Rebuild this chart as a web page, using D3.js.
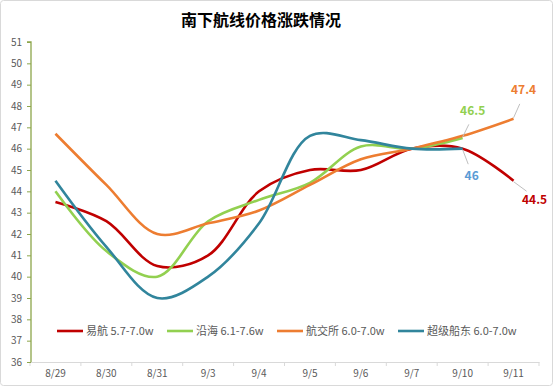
<!DOCTYPE html>
<html><head><meta charset="utf-8">
<script src="https://cdn.jsdelivr.net/npm/d3@7"></script>
<style>
html,body{margin:0;padding:0;background:#fff;}
text{font-family:"Microsoft YaHei","Noto Sans CJK SC","Liberation Sans",sans-serif;}
</style></head>
<body>
<svg id="c" width="553" height="386"></svg>
<script>
const categories = ["8/29","8/30","8/31","9/3","9/4","9/5","9/6","9/7","9/10","9/11"];
const yTicks = [36,37,38,39,40,41,42,43,44,45,46,47,48,49,50,51];
const seriesNames = ["易航 5.7-7.0w","沿海 6.1-7.6w","航交所 6.0-7.0w","超级船东 6.0-7.0w"];
const yihang   = [43.5, 42.6, 40.5, 41.0, 44.0, 45.0, 45.0, 46.0, 46.0, 44.5];
const yanhai   = [44.0, 41.2, 40.0, 42.6, 43.6, 44.4, 46.1, 46.0, 46.5, null];
const hangjiao = [46.7, 44.3, 42.0, 42.5, 43.1, 44.3, 45.5, 46.0, 46.6, 47.4];
const chaoji   = [44.5, 41.4, 39.0, 40.0, 42.5, 46.6, 46.4, 46.0, 46.0, null];
const colors = ["#C00000","#92D050","#ED7D31","#31859C"];
const labels = [
  {s:0, i:9, text:"44.5", color:"#C00000"},
  {s:1, i:8, text:"46.5", color:"#92D050"},
  {s:2, i:9, text:"47.4", color:"#ED7D31"},
  {s:3, i:8, text:"46", color:"#5B9BD5"}
];
const allSeries = [yihang, yanhai, hangjiao, chaoji];

const svg = d3.select("#c");
svg.append("rect").attr("x",0.5).attr("y",0.5).attr("width",552).attr("height",385)
  .attr("rx",3).attr("fill","#fff").attr("stroke","#D9D9D9");

svg.append("text").attr("x",261).attr("y",26).attr("text-anchor","middle")
  .attr("font-size",16).attr("font-weight","bold").attr("fill","#000")
  .text("南下航线价格涨跌情况");

const x = d3.scaleBand().domain(categories).range([30,539]);
const y = d3.scaleLinear().domain([36,51]).range([362,42]);

// x axis
const xAxis = d3.axisBottom(x).tickSize(0).tickPadding(8);
const gx = svg.append("g").attr("transform","translate(0,362)").call(xAxis);
gx.select(".domain").attr("stroke","#D9D9D9");
gx.selectAll("text").attr("font-size",10).attr("fill","#595959");
const bounds = categories.map(c=>x(c)).concat([x.range()[1]]);
svg.append("g").selectAll("line").data(bounds).join("line")
  .attr("x1",d=>d).attr("x2",d=>d).attr("y1",362).attr("y2",366)
  .attr("stroke","#D9D9D9");

// y axis
const yAxis = d3.axisLeft(y).tickValues(yTicks).tickSize(4).tickPadding(5).tickFormat(d3.format("d"));
const gy = svg.append("g").attr("transform","translate(31,0)").call(yAxis);
gy.select(".domain").attr("stroke","#8DA64B").attr("stroke-width",1.3).attr("d","M-4,42H0V362");
gy.selectAll(".tick line").attr("stroke","#8DA64B");
gy.selectAll("text").attr("font-size",10).attr("fill","#595959");

// lines
const line = d3.line()
  .defined(d=>d.v!=null)
  .x(d=>x(d.c)+x.bandwidth()/2)
  .y(d=>y(d.v))
  .curve(d3.curveCatmullRom.alpha(0.5));
allSeries.forEach((s,k)=>{
  const pts = s.map((v,i)=>({c:categories[i], v})).filter(d=>d.v!=null);
  svg.append("path").datum(pts).attr("d",line).attr("fill","none")
    .attr("stroke",colors[k]).attr("stroke-width",2.6).attr("stroke-linecap","butt");
});

// data labels with leader lines
const offs = {0:{dx:21,dy:17}, 1:{dx:10,dy:-22}, 2:{dx:10,dy:-24}, 3:{dx:9,dy:25}};
labels.forEach(l=>{
  const px = x(categories[l.i])+x.bandwidth()/2, py = y(allSeries[l.s][l.i]);
  const o = offs[l.s];
  const lx = px+o.dx, ly = py+o.dy;
  svg.append("line").attr("x1",px).attr("y1",py+(o.dy>0?1:-1))
    .attr("x2",px+o.dx*0.62).attr("y2",py+o.dy*0.62)
    .attr("stroke","#BFBFBF").attr("stroke-width",1);
  svg.append("text").attr("x",lx).attr("y",ly+(o.dy>0?6:-1)).attr("text-anchor","middle")
    .attr("font-size",12).attr("font-weight","bold").attr("fill",l.color).text(l.text);
});

// legend
const legX = [57,167,277,398];
seriesNames.forEach((n,k)=>{
  svg.append("line").attr("x1",legX[k]).attr("x2",legX[k]+26).attr("y1",331).attr("y2",331)
    .attr("stroke",colors[k]).attr("stroke-width",2.6);
  svg.append("text").attr("x",legX[k]+29).attr("y",335).attr("font-size",11)
    .attr("fill","#595959").text(n);
});
</script>
</body></html>
